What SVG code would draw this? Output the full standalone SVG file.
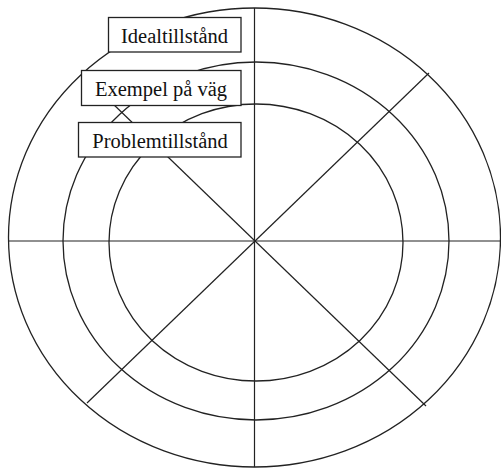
<svg xmlns="http://www.w3.org/2000/svg" width="501" height="470" viewBox="0 0 501 470">
<style>
.ring{fill:none;stroke:#222;stroke-width:1.3}
.ln{stroke:#222;stroke-width:1.2;fill:none}
.box{fill:#fff;stroke:#222;stroke-width:1.3}
.lbl{font-family:"Liberation Serif","Times New Roman",serif;font-size:20.5px;fill:#111;text-anchor:middle}
</style>
<rect width="501" height="470" fill="#fff"/>
<g id="rings">
<ellipse id="outer" class="ring" cx="254.5" cy="237.5" rx="246" ry="229.5"/>
<ellipse id="middle" class="ring" cx="256" cy="241" rx="193" ry="179"/>
<ellipse id="inner" class="ring" cx="256" cy="242.5" rx="147" ry="138.5"/>
</g>
<g id="connectors">
<line class="ln" x1="254.5" y1="8" x2="254.5" y2="467"/>
<line class="ln" x1="9" y1="241" x2="501" y2="241"/>
<line class="ln" x1="255" y1="241" x2="429" y2="73"/>
<line class="ln" x1="255" y1="241" x2="426" y2="406"/>
<line class="ln" x1="255" y1="241" x2="87" y2="403"/>
<line class="ln" x1="255" y1="241" x2="82" y2="74"/>
</g>
<g id="ideal">
<rect class="box" x="108.5" y="17.5" width="132.5" height="34.5"/>
<text class="lbl" x="174.5" y="43">Idealtillstånd</text>
</g>
<g id="exempel">
<rect class="box" x="81.5" y="70.5" width="159.5" height="35"/>
<text class="lbl" x="161" y="95.5">Exempel på väg</text>
</g>
<g id="problem">
<rect class="box" x="78.5" y="122.5" width="162.5" height="34.5"/>
<text class="lbl" x="160" y="147.5">Problemtillstånd</text>
</g>
</svg>
